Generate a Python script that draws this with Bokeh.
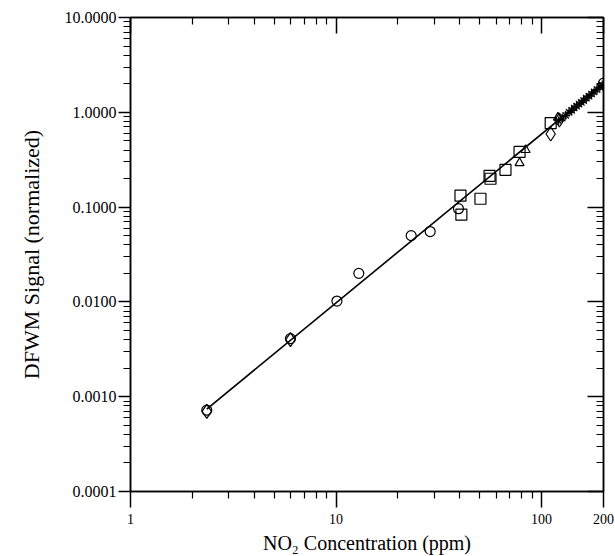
from bokeh.plotting import figure
from bokeh.models import LogAxis, FixedTicker, PrintfTickFormatter, Range1d, CustomJSTickFormatter
from bokeh.embed import file_html
from bokeh.resources import INLINE

# ---- data ----
x_circle = [2.35, 6.0, 10.1, 12.9, 23.2, 28.7, 39.4]
y_circle = [0.00072, 0.0041, 0.0102, 0.020, 0.050, 0.0552, 0.0962]

x_diamond = [2.35, 6.0, 110.7, 122.0]
y_diamond = [0.00070, 0.0040, 0.59, 0.83]

x_square = [40.3, 40.7, 50.4, 55.8, 56.4, 66.7, 78.1, 110.7]
y_square = [0.132, 0.0832, 0.1225, 0.214, 0.199, 0.247, 0.382, 0.77]

x_triangle = [78.1, 83.6, 120.0]
y_triangle = [0.292, 0.401, 0.88]

x_star = [121, 126, 131, 136, 140, 144, 148, 152, 156, 160, 165, 170, 175, 180, 186, 192, 197]
y_star = [0.81, 0.87, 0.93, 1.00, 1.05, 1.11, 1.16, 1.22, 1.27, 1.33, 1.41, 1.48, 1.56, 1.64, 1.74, 1.84, 1.93]

x_circle_cross = [200.0]
y_circle_cross = [2.03]

fit_x = [2.35, 200.0]
fit_y = [0.00074, 2.03]

x_major = [1, 10, 100, 200]
x_minor = [2, 3, 4, 5, 6, 7, 8, 9, 20, 30, 40, 50, 60, 70, 80, 90]
y_major = [0.0001, 0.001, 0.01, 0.1, 1, 10]
y_minor = [k * d for d in [0.0001, 0.001, 0.01, 0.1, 1] for k in range(2, 10)]

FONT = "Liberation Serif"

p = figure(width=615, height=556, x_axis_type="log", y_axis_type="log",
           x_range=Range1d(1, 200), y_range=Range1d(0.0001, 10),
           output_backend="svg", toolbar_location=None,
           min_border_left=130, min_border_right=12, min_border_top=17, min_border_bottom=63)
p.grid.visible = False
p.outline_line_color = "black"
p.outline_line_width = 1.5
p.background_fill_color = "white"
p.border_fill_color = "white"

xt = FixedTicker(ticks=x_major, minor_ticks=x_minor)
yt = FixedTicker(ticks=y_major, minor_ticks=y_minor)

xa = p.xaxis[0]
xa.ticker = xt
xa.formatter = PrintfTickFormatter(format="%d")
xa.axis_label = "NO₂ Concentration (ppm)"
ya = p.yaxis[0]
ya.ticker = yt
ya.formatter = PrintfTickFormatter(format="%.4f")
ya.axis_label = "DFWM Signal (normalized)"

for ax in (xa, ya):
    ax.axis_line_width = 1.5
    ax.major_tick_line_width = 1.5
    ax.minor_tick_line_width = 1.2
    ax.major_tick_in = 0
    ax.minor_tick_in = 0
    ax.major_tick_out = 16
    ax.minor_tick_out = 7
    ax.major_label_text_font = FONT
    ax.axis_label_text_font = FONT
    ax.axis_label_text_font_style = "normal"
    ax.major_label_text_color = "black"
    ax.axis_label_text_color = "black"

xa.axis_label_text_font_size = "20px"
xa.major_label_text_font_size = "14px"
xa.major_label_standoff = 6
xa.axis_label_standoff = 5
ya.axis_label_text_font_size = "22px"
ya.major_tick_out = 12
ya.major_label_text_font_size = "16px"
ya.major_label_standoff = 2
ya.axis_label_standoff = 18

blank = CustomJSTickFormatter(code="return ''")
top = LogAxis(ticker=FixedTicker(ticks=x_major, minor_ticks=x_minor), formatter=blank,
              major_tick_in=16, major_tick_out=0, minor_tick_in=7, minor_tick_out=0,
              major_label_text_font_size="0px", major_label_standoff=0,
              axis_line_width=1.5, major_tick_line_width=1.5, minor_tick_line_width=1.2)
right = LogAxis(ticker=FixedTicker(ticks=y_major, minor_ticks=y_minor), formatter=blank,
                major_tick_in=16, major_tick_out=0, minor_tick_in=7, minor_tick_out=0,
                major_label_text_font_size="0px", major_label_standoff=0,
                axis_line_width=1.5, major_tick_line_width=1.5, minor_tick_line_width=1.2)
p.add_layout(top, "above")
p.add_layout(right, "right")

# fit line
p.line(fit_x, fit_y, line_color="black", line_width=1.6)

mk = dict(fill_color=None, line_color="black", line_width=1.2)
p.scatter(x_circle, y_circle, marker="circle", size=10, **mk)
p.scatter(x_diamond, y_diamond, marker="diamond", size=14, **mk)
p.scatter(x_square, y_square, marker="square", size=11, **mk)
p.scatter(x_triangle, y_triangle, marker="triangle", size=9, **mk)
p.scatter(x_star, y_star, marker="asterisk", size=9, **mk)
p.scatter(x_circle_cross, y_circle_cross, marker="circle_cross", size=10, **mk)

open("out.html", "w").write(file_html(p, INLINE))
